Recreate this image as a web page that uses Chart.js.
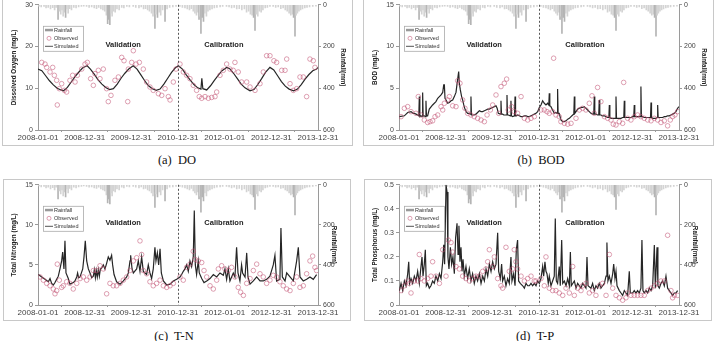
<!DOCTYPE html>
<html>
<head>
<meta charset="utf-8">
<script src="https://cdn.jsdelivr.net/npm/chart.js@4.4.1/dist/chart.umd.min.js"></script>
<style>
    body { margin: 0; background: #fff; width: 722px; height: 341px; overflow: hidden; position: relative; }
    .panel { position: absolute; border: 1px solid #c8c8c8; box-sizing: border-box; background: #fff; }
    .panel canvas { display: block; }
    .caption { position: absolute; font-family: 'Liberation Serif', 'Times New Roman', serif; font-size: 12.5px; color: #111; white-space: pre; transform: translate(-50%, -50%); }
</style>
</head>
<body>
<div class="panel" style="left:2px;top:-1px;width:351px;height:147px"><canvas id="chartDO" width="349" height="145"></canvas></div>
<div class="panel" style="left:363px;top:-1px;width:351px;height:147px"><canvas id="chartBOD" width="349" height="145"></canvas></div>
<div class="panel" style="left:3px;top:179px;width:348px;height:142px"><canvas id="chartTN" width="346" height="140"></canvas></div>
<div class="panel" style="left:364px;top:179px;width:348px;height:142px"><canvas id="chartTP" width="346" height="140"></canvas></div>
<div class="caption" style="left:177px;top:160px">(a)  DO</div>
<div class="caption" style="left:541px;top:160px">(b)  BOD</div>
<div class="caption" style="left:174px;top:336px">(c)  T-N</div>
<div class="caption" style="left:535px;top:336px">(d)  T-P</div>
<script>
// x values are days counted from 2008-01-01
const tickDays = [0, 365, 730, 1095, 1461, 1826, 2191];
const tickLabels = ['2008-01-01', '2008-12-31', '2009-12-31', '2010-12-31', '2012-01-01', '2012-12-31', '2013-12-31'];
const splitDay = 1095; // validation / calibration boundary

// daily rainfall (mm), same station for all four plots
const rainfall = [
    [8,6],[25,10],[47,8],[63,15],[80,12],[98,20],[115,14],[130,25],[142,12],[157,70],[168,30],[178,45],[188,25],[197,55],[206,35],[216,60],[225,20],[236,40],[248,18],[262,25],[280,12],[298,15],[318,10],[340,8],[358,6],
    [380,8],[400,12],[420,10],[440,15],[458,18],[475,12],[492,20],[508,25],[522,30],[535,50],[545,90],[553,70],[562,95],[571,40],[580,55],[592,30],[604,35],[618,20],[635,25],[655,12],[672,15],[695,8],[715,10],
    [745,8],[765,12],[790,15],[808,10],[826,20],[842,18],[858,25],[872,30],[888,40],[900,55],[910,35],[915,113],[922,45],[935,60],[948,35],[960,50],[975,25],[994,80],[1010,20],[1030,12],[1055,10],[1080,8],
    [1110,8],[1130,12],[1150,15],[1168,20],[1185,25],[1200,18],[1215,30],[1228,40],[1240,50],[1250,35],[1260,70],[1268,55],[1275,137],[1285,60],[1295,80],[1305,40],[1318,55],[1330,30],[1345,25],[1362,20],[1380,15],[1400,12],[1425,10],[1445,8],
    [1475,8],[1495,10],[1515,15],[1535,12],[1555,20],[1575,18],[1595,25],[1615,20],[1632,35],[1648,30],[1662,45],[1675,50],[1687,60],[1698,123],[1708,45],[1720,55],[1732,30],[1746,35],[1760,25],[1778,15],[1795,12],[1815,8],
    [1840,8],[1860,12],[1880,10],[1900,18],[1918,15],[1935,25],[1950,30],[1965,40],[1978,50],[1990,45],[2000,60],[2011,150],[2020,50],[2030,40],[2042,30],[2055,25],[2070,20],[2088,15],[2105,12],[2125,10],[2150,8],[2175,6]
];

// (a) DO
const doSimulated = [
    [0,14.6],[30,14.2],[60,13.0],[90,11.8],[120,10.8],[150,10.0],[180,9.6],[200,9.4],[230,10.2],[260,11.5],[290,12.8],[320,13.9],[350,14.9],[385,15.4],
    [410,14.6],[440,13.4],[470,12.0],[500,11.0],[530,10.2],[560,9.7],[590,9.9],[620,11.0],[650,12.4],[680,13.6],[710,14.6],[745,15.4],
    [775,14.6],[805,13.2],[835,11.8],[865,10.6],[895,9.9],[925,9.5],[955,9.8],[985,11.0],[1015,12.4],[1045,13.8],[1075,14.9],[1098,15.4],
    [1130,14.6],[1160,13.2],[1190,12.0],[1220,10.9],[1250,10.1],[1275,9.8],[1282,12.4],[1290,9.9],[1320,9.6],[1350,10.6],[1380,11.9],[1410,13.1],[1440,14.2],[1476,15.0],
    [1500,14.7],[1530,13.6],[1560,12.3],[1590,11.0],[1620,10.1],[1659,9.4],[1690,9.7],[1720,10.9],[1750,12.3],[1780,13.8],[1815,15.0],
    [1845,14.4],[1875,13.0],[1905,11.6],[1935,10.5],[1965,9.8],[2000,9.4],[2030,9.8],[2060,10.9],[2090,12.2],[2120,13.3],[2150,14.2],[2180,14.6],[2191,15.0]
];
const doObserved = [
    [29,16.2],[55,15.8],[68,15.0],[94,13.9],[115,15.0],[128,13.1],[146,11.9],[151,6.0],[167,9.9],[185,11.1],[206,9.5],[224,9.1],[250,11.9],[271,13.1],[290,11.5],[308,13.1],
    [342,14.6],[368,15.8],[386,16.2],[412,12.3],[433,10.7],[446,13.5],[472,14.3],[485,12.3],[511,14.6],[537,9.9],[550,6.8],[571,8.3],[602,11.9],[629,12.7],[655,17.4],[673,16.6],
    [702,6.8],[707,14.6],[733,16.2],[746,19.0],[767,15.8],[793,16.2],[824,14.6],[850,11.5],[876,10.3],[902,9.5],[942,8.7],[968,8.3],[994,9.9],[1020,8.0],[1033,7.2],[1059,11.5],[1080,14.6],
    [1111,15.8],[1137,13.9],[1163,13.1],[1189,12.3],[1215,10.7],[1241,9.5],[1262,8.0],[1281,7.6],[1307,8.0],[1333,7.6],[1359,7.8],[1385,8.0],[1398,9.1],[1424,13.1],[1450,14.3],[1476,15.8],
    [1502,14.6],[1528,14.3],[1541,16.2],[1567,13.9],[1593,11.5],[1633,11.5],[1659,10.3],[1698,9.5],[1737,11.1],[1763,13.9],[1789,17.8],[1815,17.8],[1846,16.6],[1867,16.2],
    [1907,14.3],[1933,14.3],[1946,17.0],[1972,11.1],[1998,9.5],[2024,9.9],[2050,12.7],[2076,12.7],[2102,8.0],[2128,17.0],[2154,16.6],[2167,15.0]
];

// (b) BOD
const bodSimulated = [
    [3,1.6],[42,1.7],[68,2.1],[94,2.2],[110,2.0],[120,2.0],[133,1.9],[146,1.8],[155,1.7],[159,4.0],[163,1.6],[172,1.7],[181,1.6],[185,4.5],[189,1.7],[198,1.7],[207,1.6],[211,3.5],[215,1.7],
    [224,1.7],[237,2.5],[263,3.0],[289,3.4],[303,3.8],[316,4.0],[329,4.2],[342,4.5],[350,5.4],[355,5.4],[360,3.8],[368,3.6],[381,3.2],[394,3.3],[407,3.5],[420,3.6],[433,4.0],[446,4.5],
    [454,5.5],[467,7.0],[472,5.6],[480,4.8],[490,4.0],[498,3.6],[507,3.0],[516,2.5],[526,2.2],[537,2.0],[550,2.0],[559,1.9],[563,4.0],[567,1.8],[576,1.8],[589,1.8],[602,1.9],[615,2.1],
    [629,2.3],[642,2.2],[655,2.2],[668,2.3],[681,2.4],[694,2.5],[707,2.5],[720,2.6],[733,2.7],[746,2.8],[759,2.9],[768,2.6],[777,2.0],[794,1.9],[798,3.5],[802,1.9],[811,1.9],[820,1.8],
    [829,1.8],[841,1.8],[845,4.2],[849,1.8],[855,1.8],[872,1.7],[876,3.5],[880,1.7],[889,1.6],[904,1.7],[908,4.0],[912,1.7],[918,1.7],[929,1.8],[941,1.7],[955,1.6],[968,1.6],[981,1.7],
    [994,1.7],[1007,1.6],[1020,1.6],[1033,1.7],[1046,1.8],[1059,1.9],[1072,2.0],[1085,2.2],[1098,2.7],[1111,3.0],[1124,3.5],[1137,3.2],[1150,3.0],[1163,3.2],[1172,3.0],[1176,4.4],[1180,2.9],
    [1189,2.8],[1202,2.4],[1215,2.0],[1228,2.1],[1237,2.0],[1241,4.9],[1245,2.0],[1254,2.0],[1267,1.2],[1281,1.0],[1294,1.0],[1307,1.1],[1320,1.3],[1333,1.4],[1346,1.6],[1359,1.8],
    [1368,1.9],[1372,4.0],[1376,2.0],[1385,2.2],[1398,2.5],[1411,2.6],[1424,2.7],[1437,2.7],[1450,2.8],[1463,2.6],[1476,2.4],[1489,2.2],[1502,2.0],[1515,1.9],[1524,1.9],[1528,4.0],[1532,1.9],
    [1541,1.9],[1554,1.8],[1563,1.8],[1567,3.6],[1571,1.8],[1580,1.8],[1593,1.7],[1607,1.7],[1620,1.6],[1633,1.5],[1642,1.5],[1646,3.0],[1650,1.5],[1659,1.4],[1672,1.4],[1685,1.4],
    [1694,1.4],[1698,4.0],[1702,1.4],[1711,1.4],[1724,1.4],[1737,1.4],[1750,1.5],[1759,1.5],[1763,3.5],[1767,1.5],[1776,1.5],[1789,1.5],[1802,1.5],[1815,1.5],[1828,1.6],[1837,1.6],
    [1841,3.0],[1845,1.6],[1854,1.6],[1867,1.6],[1880,1.6],[1889,1.6],[1893,5.2],[1897,1.6],[1906,1.6],[1919,1.5],[1933,1.5],[1946,1.5],[1959,1.5],[1968,1.5],[1972,3.3],[1976,1.5],
    [1985,1.4],[1998,1.4],[2011,1.4],[2020,1.5],[2024,3.0],[2028,1.5],[2037,1.5],[2050,1.5],[2063,1.5],[2076,1.6],[2089,1.6],[2102,1.7],[2115,1.7],[2128,1.8],[2141,1.9],[2154,2.0],
    [2167,2.2],[2180,2.6],[2191,2.8]
];
const bodObserved = [
    [16,1.6],[42,2.6],[68,2.8],[94,2.2],[133,2.0],[151,4.0],[172,1.8],[198,1.2],[224,0.9],[243,1.0],[263,1.1],[282,1.6],[303,1.8],[329,2.8],[342,2.4],[355,3.2],[381,3.6],[394,4.0],
    [420,2.9],[446,2.8],[459,5.9],[477,5.6],[498,3.6],[516,2.6],[537,2.0],[563,1.8],[589,1.6],[615,1.4],[642,1.2],[668,1.0],[689,1.8],[715,2.4],[733,3.0],[759,4.2],[780,2.0],[798,5.2],
    [824,5.6],[842,6.1],[855,2.4],[881,2.8],[902,2.2],[928,2.0],[955,4.0],[981,1.4],[1007,1.2],[1033,1.4],[1059,1.6],[1111,2.4],[1137,2.4],[1158,2.2],[1176,2.0],[1202,2.2],[1210,8.6],
    [1228,1.8],[1254,1.6],[1267,1.0],[1294,0.8],[1320,0.7],[1346,0.8],[1385,1.4],[1411,2.4],[1437,2.6],[1463,2.4],[1489,3.2],[1510,4.1],[1528,2.0],[1554,5.1],[1580,3.4],[1607,1.6],
    [1633,1.4],[1659,1.2],[1677,0.7],[1698,0.6],[1724,1.0],[1750,0.8],[1758,5.7],[1789,1.4],[1815,1.2],[1841,1.6],[1867,1.8],[1893,1.6],[1919,1.4],[1946,1.2],[1972,1.1],[1998,1.4],
    [2024,1.2],[2050,0.9],[2076,1.1],[2102,0.5],[2123,1.2],[2141,1.6],[2159,1.8],[2180,2.2]
];

// (c) T-N
const tnSimulated = [
    [3,3.8],[29,3.5],[55,3.2],[81,2.9],[94,3.3],[107,2.7],[120,2.5],[133,2.8],[146,3.2],[159,3.6],[172,4.5],[185,5.5],[193,6.6],[203,4.5],[211,8.0],[219,4.0],[237,3.3],[250,2.6],
    [276,2.8],[289,3.0],[303,3.5],[310,4.0],[318,3.4],[329,3.5],[350,4.5],[360,6.0],[370,8.0],[381,5.5],[394,4.5],[407,4.0],[420,3.4],[433,3.6],[441,4.4],[449,3.4],[456,4.3],[464,3.5],
    [472,4.4],[480,3.6],[488,4.5],[498,4.6],[511,5.0],[524,4.5],[537,5.2],[550,6.0],[563,5.6],[576,6.2],[584,5.0],[595,3.8],[615,2.9],[642,2.6],[668,3.0],[694,3.5],[707,4.0],[720,5.5],
    [725,6.2],[736,4.5],[746,4.0],[772,4.5],[785,5.5],[798,4.2],[811,6.0],[824,4.2],[850,3.8],[863,5.0],[876,4.0],[889,3.3],[902,4.5],[915,7.2],[923,5.5],[934,6.5],[944,5.0],[955,7.0],
    [965,4.0],[981,3.0],[1007,2.5],[1033,2.6],[1059,3.0],[1085,3.2],[1111,3.5],[1124,3.8],[1137,4.2],[1150,4.5],[1163,5.0],[1176,4.2],[1189,5.5],[1202,4.8],[1215,6.0],[1223,11.8],
    [1231,5.0],[1241,3.8],[1254,5.5],[1262,4.0],[1281,3.3],[1299,2.8],[1320,3.0],[1346,3.3],[1372,3.8],[1398,3.5],[1424,4.0],[1450,3.7],[1463,4.5],[1476,3.2],[1489,4.5],[1502,3.0],
    [1528,4.0],[1541,3.5],[1554,7.2],[1565,4.0],[1580,3.0],[1593,5.0],[1601,4.0],[1620,3.5],[1633,6.5],[1643,3.5],[1659,2.6],[1685,3.0],[1711,3.5],[1737,3.0],[1763,3.0],[1789,3.2],
    [1815,3.6],[1841,5.0],[1854,6.2],[1867,3.0],[1893,3.2],[1901,9.6],[1912,3.5],[1933,3.0],[1946,4.0],[1972,3.5],[1998,3.0],[2024,5.5],[2037,7.2],[2050,3.5],[2076,3.0],[2102,3.2],
    [2128,3.5],[2154,3.2],[2180,3.8]
];
const tnObserved = [
    [16,3.5],[42,3.1],[68,2.7],[94,2.4],[120,2.0],[133,1.4],[146,1.8],[151,5.1],[167,3.1],[185,2.2],[198,2.4],[224,2.9],[250,2.7],[276,2.0],[303,2.7],[329,3.3],[355,3.5],[381,3.1],
    [407,3.5],[433,4.3],[459,4.3],[485,4.9],[511,4.5],[537,1.4],[563,2.7],[589,2.4],[615,2.4],[642,2.7],[668,3.1],[694,3.5],[720,4.3],[746,5.5],[772,5.9],[798,8.0],[811,6.3],[824,4.3],
    [850,3.9],[876,2.9],[902,2.4],[928,2.7],[955,3.1],[981,2.4],[1007,2.2],[1033,2.4],[1059,2.7],[1111,3.5],[1137,3.1],[1163,4.7],[1189,5.1],[1215,6.7],[1228,5.7],[1254,5.5],[1281,5.3],
    [1299,4.3],[1320,3.5],[1346,2.4],[1372,2.0],[1398,3.1],[1411,4.5],[1437,4.9],[1463,4.5],[1489,4.3],[1515,4.7],[1541,3.5],[1567,2.2],[1585,1.6],[1607,1.2],[1633,2.7],[1659,3.3],
    [1685,4.3],[1711,5.1],[1737,3.9],[1763,3.5],[1789,2.7],[1815,3.1],[1841,3.7],[1867,3.5],[1893,2.9],[1919,2.4],[1946,2.0],[1972,1.8],[1998,2.7],[2024,3.5],[2050,2.2],[2076,2.4],
    [2102,3.9],[2128,5.5],[2149,6.1],[2167,4.7],[2180,4.3]
];

// (d) T-P
const tpSimulated = [
    [3,0.06],[16,0.09],[29,0.06],[42,0.10],[55,0.08],[68,0.13],[76,0.18],[83,0.09],[94,0.11],[107,0.09],[120,0.12],[133,0.10],[146,0.14],[159,0.09],[172,0.16],[180,0.20],[188,0.12],
    [198,0.17],[206,0.23],[214,0.08],[224,0.09],[237,0.07],[250,0.08],[263,0.10],[276,0.09],[289,0.12],[303,0.10],[316,0.13],[329,0.11],[342,0.18],[350,0.25],[357,0.17],[368,0.50],
    [376,0.47],[383,0.20],[391,0.15],[402,0.24],[412,0.17],[422,0.20],[433,0.13],[443,0.28],[454,0.34],[462,0.21],[469,0.33],[477,0.18],[485,0.24],[493,0.14],[501,0.19],[511,0.12],
    [524,0.16],[537,0.11],[550,0.15],[563,0.10],[576,0.13],[589,0.09],[602,0.12],[615,0.10],[629,0.13],[642,0.09],[655,0.12],[668,0.10],[681,0.15],[694,0.12],[707,0.17],[720,0.14],
    [733,0.18],[746,0.15],[759,0.17],[772,0.30],[780,0.14],[793,0.11],[803,0.17],[811,0.10],[824,0.12],[837,0.08],[850,0.11],[863,0.09],[876,0.20],[884,0.10],[897,0.13],[908,0.08],
    [918,0.23],[928,0.27],[936,0.10],[949,0.09],[968,0.08],[981,0.07],[994,0.09],[1007,0.08],[1020,0.08],[1033,0.09],[1046,0.08],[1059,0.09],[1072,0.08],[1085,0.10],[1098,0.09],
    [1111,0.11],[1124,0.16],[1132,0.12],[1142,0.18],[1150,0.14],[1158,0.13],[1168,0.09],[1176,0.12],[1189,0.08],[1202,0.10],[1215,0.12],[1223,0.36],[1231,0.10],[1241,0.09],[1254,0.16],
    [1262,0.08],[1273,0.27],[1281,0.09],[1294,0.10],[1307,0.08],[1320,0.11],[1333,0.08],[1341,0.22],[1348,0.08],[1372,0.10],[1385,0.07],[1398,0.09],[1411,0.08],[1424,0.07],[1437,0.09],
    [1450,0.08],[1463,0.07],[1471,0.20],[1479,0.08],[1502,0.07],[1515,0.09],[1528,0.06],[1541,0.08],[1554,0.07],[1567,0.09],[1580,0.07],[1593,0.08],[1607,0.09],[1620,0.12],[1627,0.26],
    [1635,0.10],[1646,0.12],[1659,0.09],[1672,0.13],[1680,0.17],[1690,0.11],[1698,0.14],[1706,0.08],[1724,0.06],[1737,0.05],[1750,0.04],[1763,0.06],[1776,0.05],[1789,0.04],[1802,0.14],
    [1810,0.05],[1828,0.05],[1841,0.06],[1854,0.05],[1867,0.06],[1880,0.05],[1893,0.07],[1901,0.27],[1909,0.06],[1919,0.05],[1933,0.06],[1946,0.05],[1959,0.07],[1972,0.06],[1985,0.08],
    [1998,0.25],[2006,0.07],[2019,0.24],[2026,0.08],[2037,0.07],[2050,0.09],[2063,0.10],[2076,0.08],[2089,0.12],[2102,0.07],[2115,0.06],[2128,0.05],[2141,0.04],[2154,0.05],[2167,0.05],
    [2180,0.06]
];
const tpObserved = [
    [16,0.06],[42,0.08],[68,0.10],[81,0.09],[94,0.05],[120,0.10],[146,0.10],[159,0.21],[172,0.11],[198,0.10],[224,0.11],[250,0.12],[263,0.18],[289,0.12],[316,0.09],[342,0.23],[368,0.12],
    [386,0.27],[407,0.26],[420,0.22],[446,0.16],[472,0.15],[498,0.12],[524,0.11],[550,0.10],[576,0.11],[602,0.12],[629,0.12],[655,0.14],[681,0.15],[694,0.18],[707,0.23],[733,0.16],
    [746,0.20],[772,0.11],[798,0.08],[811,0.07],[837,0.24],[863,0.14],[889,0.15],[902,0.23],[915,0.18],[928,0.15],[955,0.12],[981,0.10],[1007,0.11],[1033,0.12],[1059,0.10],[1072,0.10],
    [1111,0.11],[1137,0.08],[1150,0.20],[1176,0.07],[1202,0.06],[1228,0.06],[1254,0.05],[1281,0.04],[1307,0.07],[1333,0.05],[1359,0.16],[1372,0.04],[1398,0.07],[1424,0.06],[1437,0.08],
    [1463,0.09],[1489,0.05],[1515,0.06],[1541,0.04],[1567,0.08],[1593,0.09],[1620,0.04],[1646,0.21],[1672,0.07],[1698,0.04],[1724,0.03],[1750,0.02],[1776,0.03],[1789,0.05],[1815,0.04],
    [1841,0.04],[1867,0.04],[1893,0.04],[1919,0.04],[1946,0.06],[1972,0.07],[1998,0.08],[2024,0.09],[2050,0.10],[2076,0.10],[2102,0.29],[2128,0.06],[2141,0.03],[2154,0.04],[2180,0.04]
];

// layout of the plot box inside each canvas (top row / bottom row)
const geoTop = { left: 35, right: 34, top: 3, bottom: 15, titleL: 7, titleR: 5 };
const geoBottom = { left: 34, right: 32, top: 2, bottom: 15, titleL: 6, titleR: 12 };

const textColor = '#444';
const axisColor = '#9a9a9a';
const obsColor = 'rgba(196,86,118,0.7)';
const simColor = '#262626';
const sans = "'Liberation Sans', Arial, sans-serif";

function toPoints(pairs) {
    return pairs.map(p => ({ x: p[0], y: p[1] }));
}

// the big storms read a little darker than the small daily bars
function rainColor(c) {
    return c.raw && c.raw.y >= 60 ? '#b4b4b4' : '#d3d3d3';
}

// dashed split line, period labels and the small legend box
const extrasPlugin = {
    id: 'extras',
    afterDatasetsDraw(chart) {
        const ctx = chart.ctx;
        const area = chart.chartArea;
        const xs = chart.scales.x;
        ctx.save();

        // validation / calibration split
        const sx = Math.round(xs.getPixelForValue(splitDay)) + 0.5;
        ctx.strokeStyle = '#555';
        ctx.lineWidth = 1;
        ctx.setLineDash([2, 2]);
        ctx.beginPath();
        ctx.moveTo(sx, area.top);
        ctx.lineTo(sx, area.bottom);
        ctx.stroke();
        ctx.setLineDash([]);

        // period labels
        const ly = area.top + (area.bottom - area.top) * 0.32;
        ctx.fillStyle = '#222';
        ctx.font = 'bold 7.5px ' + sans;
        ctx.textAlign = 'center';
        ctx.textBaseline = 'middle';
        ctx.fillText('Validation', area.left + (area.right - area.left) * 0.304, ly);
        ctx.fillText('Calibration', area.left + (area.right - area.left) * 0.664, ly);

        // legend box
        const bx = area.left + 5;
        const by = area.top + 21;
        ctx.fillStyle = '#fff';
        ctx.fillRect(bx, by, 40, 25);
        ctx.strokeStyle = '#aaa';
        ctx.lineWidth = 0.8;
        ctx.strokeRect(bx + 0.5, by + 0.5, 40, 25);

        ctx.fillStyle = '#999';
        ctx.fillRect(bx + 2, by + 3, 8, 2.5);
        ctx.strokeStyle = obsColor;
        ctx.lineWidth = 0.8;
        ctx.beginPath();
        ctx.arc(bx + 6, by + 12.5, 2, 0, Math.PI * 2);
        ctx.stroke();
        ctx.strokeStyle = simColor;
        ctx.beginPath();
        ctx.moveTo(bx + 2, by + 20.5);
        ctx.lineTo(bx + 10, by + 20.5);
        ctx.stroke();

        ctx.fillStyle = '#333';
        ctx.font = '5.5px ' + sans;
        ctx.textAlign = 'left';
        ctx.fillText('Rainfall', bx + 11, by + 4.5);
        ctx.fillText('Observed', bx + 11, by + 12.7);
        ctx.fillText('Simulated', bx + 11, by + 20.5);
        ctx.restore();
    }
};

function makePanel(canvasId, geo, yTitle, yMax, yStep, simulated, observed) {
    const ctx = document.getElementById(canvasId).getContext('2d');
    return new Chart(ctx, {
        type: 'line',
        data: {
            datasets: [
                {
                    type: 'bar',
                    label: 'Rainfall',
                    data: toPoints(rainfall),
                    yAxisID: 'y2',
                    backgroundColor: rainColor,
                    barThickness: 1,
                    order: 3
                },
                {
                    type: 'line',
                    label: 'Simulated',
                    data: toPoints(simulated),
                    yAxisID: 'y',
                    borderColor: simColor,
                    borderWidth: 1.2,
                    pointRadius: 0,
                    tension: 0,
                    order: 2
                },
                {
                    type: 'scatter',
                    label: 'Observed',
                    data: toPoints(observed),
                    yAxisID: 'y',
                    borderColor: obsColor,
                    backgroundColor: 'rgba(255,255,255,0)',
                    borderWidth: 0.8,
                    pointRadius: 2.3,
                    order: 1
                }
            ]
        },
        options: {
            responsive: false,
            animation: false,
            devicePixelRatio: 1,
            layout: { padding: { top: geo.top, left: 0, right: 0, bottom: 0 } },
            plugins: { legend: { display: false }, tooltip: { enabled: false } },
            scales: {
                x: {
                    type: 'linear',
                    min: 0,
                    max: 2191,
                    offset: false,
                    afterBuildTicks: s => { s.ticks = tickDays.map(v => ({ value: v })); },
                    afterFit: s => { s.height = geo.bottom; s.paddingLeft = 0; s.paddingRight = 0; },
                    ticks: {
                        autoSkip: false,
                        maxRotation: 0,
                        padding: 1,
                        color: textColor,
                        font: { size: 8, family: sans },
                        callback: v => tickLabels[tickDays.indexOf(v)]
                    },
                    grid: { drawOnChartArea: false, tickLength: 2, color: axisColor },
                    border: { color: axisColor }
                },
                y: {
                    position: 'left',
                    min: 0,
                    max: yMax,
                    afterFit: s => { s.width = geo.left; s.paddingTop = 0; s.paddingBottom = 0; },
                    ticks: { stepSize: yStep, padding: 2, color: textColor, font: { size: 7, family: sans } },
                    grid: { drawOnChartArea: false, tickLength: 3, color: axisColor },
                    border: { color: axisColor },
                    title: { display: true, text: yTitle, color: '#222', font: { size: 6.3, weight: 'bold', family: sans }, padding: { top: geo.titleL, bottom: 0 } }
                },
                y2: {
                    position: 'right',
                    min: 0,
                    max: 600,
                    reverse: true,
                    afterFit: s => { s.width = geo.right; s.paddingTop = 0; s.paddingBottom = 0; },
                    ticks: { stepSize: 200, padding: 2, color: textColor, font: { size: 7, family: sans } },
                    grid: { drawOnChartArea: false, tickLength: 3, color: axisColor },
                    border: { color: axisColor },
                    title: { display: true, text: 'Rainfall(mm)', color: '#222', font: { size: 6.3, weight: 'bold', family: sans }, padding: { top: geo.titleR, bottom: 0 } }
                }
            }
        },
        plugins: [extrasPlugin]
    });
}

makePanel('chartDO', geoTop, 'Dissolved Oxygen (mg/L)', 30, 10, doSimulated, doObserved);
makePanel('chartBOD', geoTop, 'BOD (mg/L)', 15, 5, bodSimulated, bodObserved);
makePanel('chartTN', geoBottom, 'Total Nitrogen (mg/L)', 15, 5, tnSimulated, tnObserved);
makePanel('chartTP', geoBottom, 'Total Phosphorus (mg/L)', 0.5, 0.1, tpSimulated, tpObserved);
</script>
</body>
</html>
